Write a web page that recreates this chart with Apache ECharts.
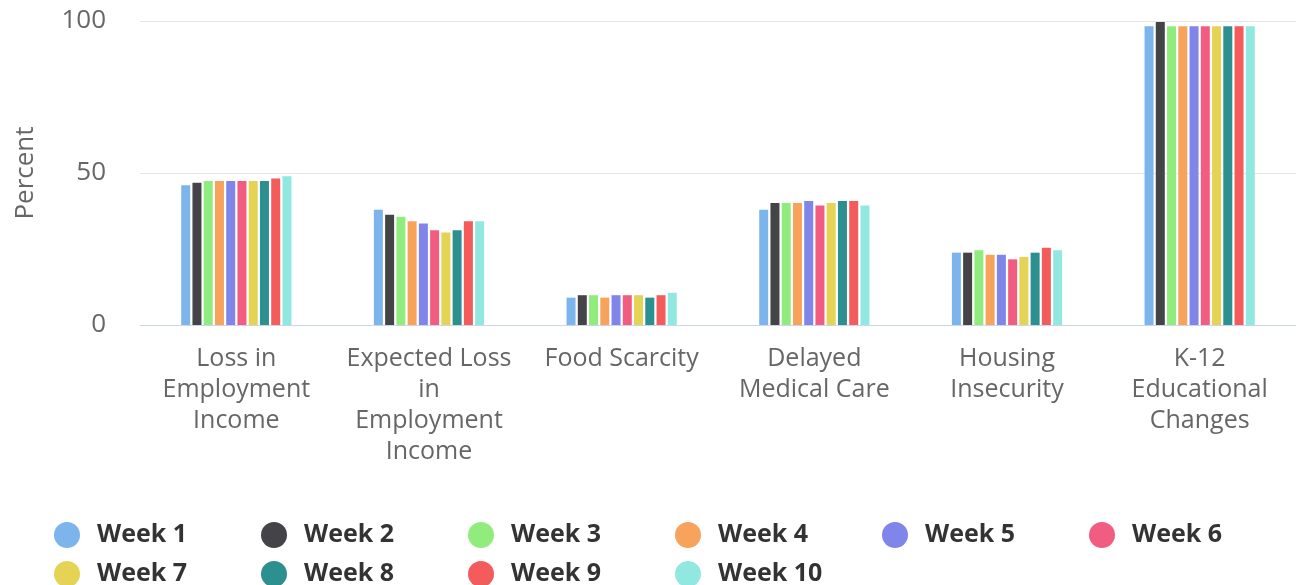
<!DOCTYPE html>
<html>
<head>
<meta charset="utf-8">
<script src="https://cdn.jsdelivr.net/npm/echarts@6/dist/echarts.min.js"></script>
<style>
html,body{margin:0;padding:0;background:#fff;}
#chart{width:1296px;height:585px;}
</style>
</head>
<body>
<div id="chart"></div>
<script>
var categories = ["Loss in Employment Income","Expected Loss in Employment Income","Food Scarcity","Delayed Medical Care","Housing Insecurity","K-12 Educational Changes"];
var tickLabels = ["Loss in\nEmployment\nIncome","Expected Loss\nin\nEmployment\nIncome","Food Scarcity","Delayed\nMedical Care","Housing\nInsecurity","K-12\nEducational\nChanges"];
var seriesNames = ["Week 1","Week 2","Week 3","Week 4","Week 5","Week 6","Week 7","Week 8","Week 9","Week 10"];
var colors = ["#7cb5ec","#434348","#90ed7d","#f7a35c","#8085e9","#f15c80","#e4d354","#2b908f","#f45b5b","#91e8e1"];
var week1  = [46.0, 37.9, 9.0, 37.9, 23.8, 98.3];
var week2  = [46.8, 36.3, 9.8, 40.1, 23.8, 99.7];
var week3  = [47.4, 35.6, 9.8, 40.1, 24.6, 98.3];
var week4  = [47.4, 34.1, 9.0, 40.1, 23.1, 98.3];
var week5  = [47.4, 33.4, 9.8, 40.8, 23.1, 98.3];
var week6  = [47.4, 31.2, 9.8, 39.3, 21.6, 98.3];
var week7  = [47.4, 30.4, 9.8, 40.1, 22.4, 98.3];
var week8  = [47.4, 31.2, 9.0, 40.8, 23.8, 98.3];
var week9  = [48.2, 34.1, 9.8, 40.8, 25.4, 98.3];
var week10 = [48.9, 34.1, 10.6, 39.3, 24.6, 98.3];
var yTicks = [0, 50, 100];

var allWeeks = [week1, week2, week3, week4, week5, week6, week7, week8, week9, week10];
var FONT = '"Open Sans", "Noto Sans", sans-serif';

var legends = seriesNames.map(function (n, i) {
  var col = i % 6, row = Math.floor(i / 6);
  return {
    left: 49 + 207 * col, top: 517 + 39 * row,
    itemWidth: 50, itemHeight: 26, icon: 'circle',
    textStyle: { fontSize: 25, fontWeight: 'bold', color: '#333333', fontFamily: FONT },
    data: [n]
  };
});

var chart = echarts.init(document.getElementById('chart'));
chart.setOption({
  animation: false,
  color: colors,
  textStyle: { fontFamily: FONT },
  grid: { left: 140, right: 0, top: 21, bottom: 260, containLabel: false },
  legend: legends,
  xAxis: {
    type: 'category',
    data: categories,
    axisLine: { lineStyle: { color: '#ccd6eb', width: 1 } },
    axisTick: { show: false },
    axisLabel: {
      interval: 0, margin: 18, color: '#666666', fontSize: 25, lineHeight: 31, fontFamily: FONT,
      formatter: function (v, i) { return tickLabels[i]; }
    }
  },
  yAxis: {
    type: 'value', min: yTicks[0], max: yTicks[yTicks.length - 1], interval: 50,
    name: 'Percent', nameLocation: 'middle', nameGap: 101,
    nameTextStyle: { color: '#666666', fontSize: 26, fontFamily: FONT },
    axisLine: { show: false }, axisTick: { show: false },
    axisLabel: { color: '#666666', fontSize: 26, margin: 34, fontFamily: FONT },
    splitLine: { lineStyle: { color: '#e6e6e6', width: 1 } }
  },
  series: seriesNames.map(function (n, i) {
    return { name: n, type: 'bar', data: allWeeks[i], barWidth: 9, barGap: '25%' };
  })
});
</script>
</body>
</html>
